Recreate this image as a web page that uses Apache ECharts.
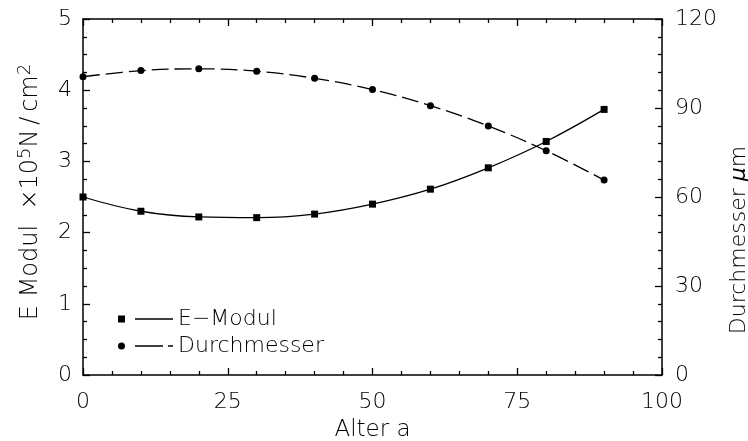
<!DOCTYPE html>
<html>
<head>
<meta charset="utf-8">
<script src="https://cdn.jsdelivr.net/npm/echarts@6/dist/echarts.min.js"></script>
<style>html,body{margin:0;padding:0;background:#fff}#c{width:748px;height:441px}</style>
</head>
<body>
<div id="c"></div>
<script>
var ages = [0, 10, 20, 30, 40, 50, 60, 70, 80, 90];
var eModul = [2.50, 2.30, 2.22, 2.21, 2.26, 2.40, 2.61, 2.91, 3.28, 3.73];
var durchmesser = [100.5, 102.6, 103.2, 102.4, 100.0, 96.2, 90.8, 83.9, 75.6, 65.7];
var xTicks = [0, 25, 50, 75, 100];
var leftTicks = [0, 1, 2, 3, 4, 5];
var rightTicks = [0, 30, 60, 90, 120];

var FONT = 'DejaVu Sans';
var FW = 200;
function pairs(xs, ys) { return xs.map(function (x, i) { return [x, ys[i]]; }); }

var tickStyle = { color: '#000', width: 1.3 };
var lineSty = { show: true, onZero: false, lineStyle: { color: '#000', width: 1.5 } };
var chart = echarts.init(document.getElementById('c'), null, { renderer: 'canvas' });
chart.setOption({
  animation: false,
  backgroundColor: '#fff',
  grid: { left: 83, right: 86, top: 19, bottom: 66, containLabel: false, outerBoundsMode: 'none' },
  legend: {
    orient: 'vertical', left: 113, top: 303, itemGap: 5,
    itemWidth: 55, itemHeight: 7, itemTextGap: 10,
    itemStyle: { borderWidth: 0 },
    textStyle: { fontFamily: FONT, fontWeight: FW, fontSize: 22, color: '#000' },
    data: [
      { name: 'E\u2212Modul', icon: 'path://M0,0 L7,0 L7,7 L0,7 Z M17,2.85 L55,2.85 L55,4.15 L17,4.15 Z' },
      { name: 'Durchmesser', icon: 'path://M0,3.5 A3.5,3.5 0 1 1 7,3.5 A3.5,3.5 0 1 1 0,3.5 Z M17,2.85 L45,2.85 L45,4.15 L17,4.15 Z M50,2.85 L55,2.85 L55,4.15 L50,4.15 Z' }
    ]
  },
  xAxis: [{
    type: 'value', min: xTicks[0], max: xTicks[xTicks.length - 1], interval: xTicks[1] - xTicks[0],
    position: 'bottom',
    name: 'Alter a', nameLocation: 'middle', nameGap: 44,
    nameTextStyle: { fontFamily: FONT, fontWeight: FW, fontSize: 23, color: '#000' },
    axisLine: lineSty,
    axisTick: { inside: true, length: 7, lineStyle: tickStyle },
    minorTick: { show: true, splitNumber: 5, length: 4, lineStyle: tickStyle },
    axisLabel: { margin: 16, fontFamily: FONT, fontWeight: FW, fontSize: 22, color: '#000' },
    splitLine: { show: false }
  }, {
    type: 'value', min: xTicks[0], max: xTicks[xTicks.length - 1], interval: xTicks[1] - xTicks[0],
    position: 'top',
    axisLine: lineSty,
    axisTick: { inside: true, length: 7, lineStyle: tickStyle },
    minorTick: { show: true, splitNumber: 5, length: 4, lineStyle: tickStyle },
    axisLabel: { show: false },
    splitLine: { show: false }
  }],
  yAxis: [{
    type: 'value', min: leftTicks[0], max: leftTicks[leftTicks.length - 1], interval: leftTicks[1] - leftTicks[0],
    position: 'left',
    name: '{a|E Modul  \u00d710}{s|5}{a|N\u2009/\u2009cm}{s|2}', nameLocation: 'middle', nameGap: 37,
    nameTextStyle: {
      fontFamily: FONT, fontWeight: FW, fontSize: 24, color: '#000', padding: [0, 0, 0, 10],
      rich: {
        a: { fontFamily: FONT, fontWeight: FW, fontSize: 24, color: '#000' },
        s: { fontFamily: FONT, fontWeight: FW, fontSize: 18, color: '#000', padding: [0, 0, 12, 0] }
      }
    },
    axisLine: lineSty,
    axisTick: { inside: true, length: 7, lineStyle: tickStyle },
    minorTick: { show: true, splitNumber: 4, length: 4, lineStyle: tickStyle },
    axisLabel: { margin: 11, fontFamily: FONT, fontWeight: FW, fontSize: 22, color: '#000' },
    splitLine: { show: false }
  }, {
    type: 'value', min: rightTicks[0], max: rightTicks[rightTicks.length - 1], interval: rightTicks[1] - rightTicks[0],
    position: 'right',
    name: '{a|Durchmesser }{i|\u03bc}{a|m}', nameLocation: 'middle', nameGap: 64,
    nameTextStyle: {
      fontFamily: FONT, fontWeight: FW, fontSize: 22, color: '#000', padding: [0, 86, 0, 0],
      rich: {
        a: { fontFamily: FONT, fontWeight: FW, fontSize: 22, color: '#000' },
        i: { fontFamily: FONT, fontWeight: FW, fontStyle: 'italic', fontSize: 22, color: '#000' }
      }
    },
    axisLine: lineSty,
    axisTick: { inside: true, length: 7, lineStyle: tickStyle },
    minorTick: { show: true, splitNumber: 5, length: 4, lineStyle: tickStyle },
    axisLabel: { margin: 13, fontFamily: FONT, fontWeight: FW, fontSize: 22, color: '#000' },
    splitLine: { show: false }
  }],
  series: [{
    name: 'E\u2212Modul', type: 'line', xAxisIndex: 0, yAxisIndex: 0,
    data: pairs(ages, eModul), smooth: 0.4,
    symbol: 'rect', symbolSize: 7,
    itemStyle: { color: '#000', borderWidth: 0 },
    lineStyle: { color: '#000', width: 1.3 }
  }, {
    name: 'Durchmesser', type: 'line', xAxisIndex: 0, yAxisIndex: 1,
    data: pairs(ages, durchmesser), smooth: 0.4,
    symbol: 'circle', symbolSize: 7,
    itemStyle: { color: '#000', borderWidth: 0 },
    lineStyle: { color: '#000', width: 1.3, type: [17, 6] }
  }]
});
</script>
</body>
</html>
